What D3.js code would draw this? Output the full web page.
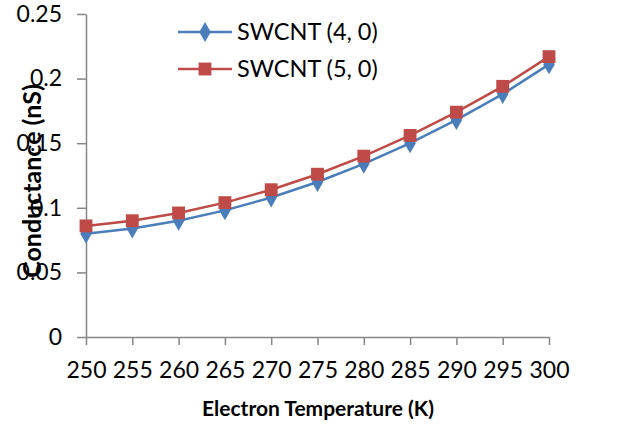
<!DOCTYPE html>
<html>
<head>
<meta charset="utf-8">
<script src="https://cdn.jsdelivr.net/npm/d3@7"></script>
<style>
  body { margin: 0; background: #fff; }
  text { font-family: Lato, 'Open Sans', sans-serif; fill: #000; }
</style>
</head>
<body>
<div id="chart"></div>
<script>
var temps = [250, 255, 260, 265, 270, 275, 280, 285, 290, 295, 300]
var swcnt40 = [0.080, 0.084, 0.090, 0.098, 0.108, 0.120, 0.134, 0.150, 0.168, 0.188, 0.211]
var swcnt50 = [0.086, 0.090, 0.096, 0.104, 0.114, 0.126, 0.140, 0.156, 0.174, 0.194, 0.217]
var yTicks = [0, 0.05, 0.1, 0.15, 0.2, 0.25]
var yTickLabels = ['0', '0.05', '0.1', '0.15', '0.2', '0.25']
var seriesNames = ['SWCNT (4, 0)', 'SWCNT (5, 0)']

var series = [
  { name: seriesNames[0], values: swcnt40, color: '#4a7ebb', marker: d3.symbolDiamond },
  { name: seriesNames[1], values: swcnt50, color: '#be4b48', marker: d3.symbolSquare },
]

var W = 642, H = 427
var svg = d3.select('#chart').append('svg').attr('width', W).attr('height', H)

var x = d3.scaleLinear().domain([250, 300]).range([86, 549])
var y = d3.scaleLinear().domain([0, 0.25]).range([337, 14])

// axes
svg.append('g')
  .attr('transform', 'translate(0,' + y(0) + ')')
  .call(d3.axisBottom(x).tickValues(temps).tickFormat(d3.format('d')).tickSize(8).tickSizeOuter(0).tickPadding(17))
svg.append('g')
  .attr('transform', 'translate(' + x(250) + ',0)')
  .call(d3.axisLeft(y).tickValues(yTicks).tickFormat((d, i) => yTickLabels[i]).tickSize(9).tickSizeOuter(0).tickPadding(15))

svg.selectAll('.domain, .tick line').attr('stroke', '#868686').attr('stroke-width', 1.5)
svg.selectAll('.tick text').style('font-size', '23px').style('font-family', 'Lato, sans-serif')

// series
var line = d3.line().x((d, i) => x(temps[i])).y(d => y(d))
var symSize = m => (m === d3.symbolSquare ? 165 : 115)
series.forEach(function(s) {
  svg.append('path')
    .attr('d', line(s.values))
    .attr('fill', 'none')
    .attr('stroke', s.color)
    .attr('stroke-width', 2.5)
  svg.selectAll(null)
    .data(s.values)
    .enter().append('path')
    .attr('d', d3.symbol().type(s.marker).size(symSize(s.marker)))
    .attr('transform', (d, i) => 'translate(' + x(temps[i]) + ',' + y(d) + ')')
    .attr('fill', s.color)
})

// legend
var leg = svg.append('g')
series.forEach(function(s, i) {
  var ly = 32 + i * 37
  leg.append('line').attr('x1', 178).attr('x2', 232).attr('y1', ly).attr('y2', ly)
    .attr('stroke', s.color).attr('stroke-width', 2.5)
  leg.append('path')
    .attr('d', d3.symbol().type(s.marker).size(symSize(s.marker)))
    .attr('transform', 'translate(205,' + ly + ')')
    .attr('fill', s.color)
  leg.append('text').attr('x', 237).attr('y', ly).attr('dy', '0.36em')
    .style('font-size', '23.5px').text(s.name)
})

// axis titles
svg.append('text')
  .attr('x', 318).attr('y', 409).attr('dy', '0.35em')
  .attr('text-anchor', 'middle')
  .style('font-size', '21px').style('font-weight', 'bold')
  .text('Electron Temperature (K)')
svg.append('text')
  .attr('transform', 'translate(32,181) rotate(-90)')
  .attr('dy', '0.35em')
  .attr('text-anchor', 'middle')
  .style('font-size', '25px').style('font-weight', 'bold')
  .text('Conductance (nS)')
</script>
</body>
</html>
